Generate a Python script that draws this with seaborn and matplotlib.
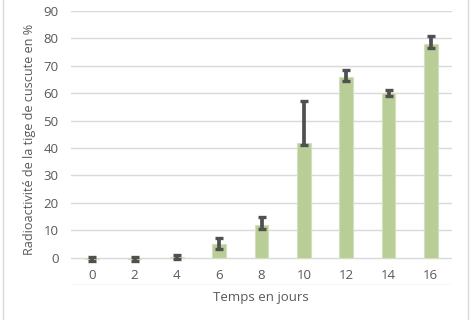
import matplotlib
matplotlib.use("Agg")
import matplotlib.pyplot as plt
from matplotlib.lines import Line2D
import seaborn as sns
import pandas as pd
import numpy as np

jours = ["0", "2", "4", "6", "8", "10", "12", "14", "16"]
radioactivite = [-0.5, -0.5, 0.3, 5, 12, 42, 66, 60, 78]
err_bas = [0.6, 0.6, 0.7, 1.8, 1.5, 1.0, 1.5, 1.1, 1.5]
err_haut = [0.6, 0.6, 0.7, 2.0, 2.7, 15.0, 2.6, 1.1, 2.8]
y_ticks = [0, 10, 20, 30, 40, 50, 60, 70, 80, 90]

sns.set_theme(style="white")
plt.rcParams["font.family"] = ["Open Sans", "DejaVu Sans"]

W, H = 471, 320
fig = plt.figure(figsize=(W / 100, H / 100), dpi=100)
ax = fig.add_axes([71 / W, 1 - 285 / H, (452 - 71) / W, (285 - 11) / H])

df = pd.DataFrame({"jour": jours, "val": radioactivite})
sns.barplot(data=df, x="jour", y="val", order=jours, color="#B9CD96",
            saturation=1, width=0.33, errorbar=None, ax=ax,
            edgecolor="#D3E0BF", linewidth=0.8, zorder=2)

ax.errorbar(np.arange(len(jours)), radioactivite, yerr=[err_bas, err_haut],
            fmt="none", ecolor="#505050", elinewidth=2.7, capsize=3.0,
            capthick=2.4, zorder=3)

ax.set_ylim(-10, 90)
ax.set_xlim(-0.5, len(jours) - 0.5)
ax.set_yticks(y_ticks)
ax.set_yticks([-10], minor=True)
ax.grid(axis="y", which="both", color="#D9D9D9", linewidth=1.0, zorder=0)
ax.set_axisbelow(True)
for s in ax.spines.values():
    s.set_visible(False)

txt = "#595959"
ax.tick_params(axis="y", length=0, pad=9, labelsize=9.5, labelcolor=txt)
ax.tick_params(axis="x", length=0, pad=-11.8, labelsize=9.5, labelcolor=txt)
ax.tick_params(axis="y", which="minor", length=0)

ax.set_xlabel("")
ax.set_ylabel("")
fig.text(30 / W, 1 - 139 / H, "Radioactivité de la tige de cuscute en %",
         rotation=90, ha="center", va="center", fontsize=9.1, color=txt)
fig.text(261 / W, 1 - 298 / H, "Temps en jours", ha="center", va="center",
         fontsize=9.5, color=txt)

for xp in (2.5 / W, 468 / W):
    fig.add_artist(Line2D([xp, xp], [0, 1], color="#D9D9D9", linewidth=1,
                          transform=fig.transFigure))

fig.savefig("out.png", dpi=100)
